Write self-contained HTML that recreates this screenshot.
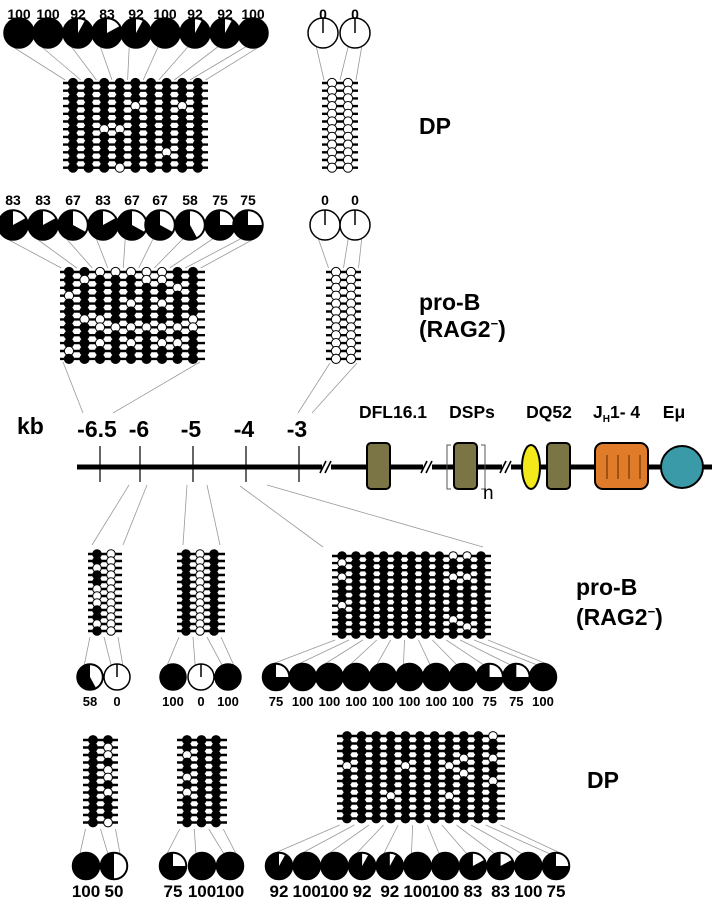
<!DOCTYPE html>
<html><head><meta charset="utf-8"><style>
html,body{margin:0;padding:0;background:#fff;}
svg{display:block;}
text{font-family:"Liberation Sans",Arial,sans-serif;font-weight:bold;fill:#000;}
</style></head><body>
<svg id="s" width="712" height="903" viewBox="0 0 712 903" xmlns="http://www.w3.org/2000/svg">
<g id="g"></g>
<line x1="77" y1="467" x2="712" y2="467" stroke="#000" stroke-width="5"/>
<g stroke="#000" stroke-width="1.2">
<line x1="100" y1="446" x2="100" y2="482"/><line x1="140" y1="446" x2="140" y2="482"/>
<line x1="193" y1="446" x2="193" y2="482"/><line x1="246" y1="446" x2="246" y2="482"/>
<line x1="299" y1="446" x2="299" y2="482"/>
</g>
<g stroke="#fff" stroke-width="6"><line x1="322" y1="467" x2="331" y2="467"/><line x1="423" y1="467" x2="432" y2="467"/><line x1="502" y1="467" x2="511" y2="467"/></g>
<g stroke="#000" stroke-width="1.6">
<line x1="320" y1="473" x2="326" y2="461"/><line x1="325" y1="473" x2="331" y2="461"/>
<line x1="421" y1="473" x2="427" y2="461"/><line x1="426" y1="473" x2="432" y2="461"/>
<line x1="500" y1="473" x2="506" y2="461"/><line x1="505" y1="473" x2="511" y2="461"/>
</g>
<rect x="367" y="443" width="23" height="46" rx="4" fill="#7b7545" stroke="#000" stroke-width="2"/>
<path d="M451 445 H447 V489 H451 M481 445 H485 V489 H481" fill="none" stroke="#555" stroke-width="1"/>
<rect x="454" y="443" width="23" height="46" rx="4" fill="#7b7545" stroke="#000" stroke-width="2"/>
<ellipse cx="531" cy="467" rx="9" ry="22" fill="#f2e81a" stroke="#000" stroke-width="2"/>
<rect x="547" y="443" width="23" height="46" rx="4" fill="#7b7545" stroke="#000" stroke-width="2"/>
<rect x="595" y="443" width="53" height="46" rx="8" fill="#e07b2a" stroke="#000" stroke-width="2"/>
<g stroke="#5a2a00" stroke-width="1"><line x1="607" y1="455" x2="607" y2="479"/><line x1="618" y1="455" x2="618" y2="479"/><line x1="629" y1="455" x2="629" y2="479"/><line x1="640" y1="455" x2="640" y2="479"/></g>
<circle cx="682" cy="467" r="21" fill="#3a9aa8" stroke="#000" stroke-width="2"/>
<text x="483" y="499" font-size="19" style="font-weight:normal">n</text>
<text x="393" y="418" font-size="17.5" text-anchor="middle">DFL16.1</text>
<text x="472" y="418" font-size="17.5" text-anchor="middle">DSPs</text>
<text x="549" y="418" font-size="17.5" text-anchor="middle">DQ52</text>
<text x="593" y="418" font-size="17.5">J<tspan font-size="10" dy="4">H</tspan><tspan dy="-4">1- 4</tspan></text>
<text x="674" y="418" font-size="17.5" text-anchor="middle">Eμ</text>
<text x="17" y="434" font-size="23">kb</text>
<g font-size="23" text-anchor="middle">
<text x="97" y="437">-6.5</text><text x="139" y="437">-6</text><text x="191" y="437">-5</text><text x="244" y="437">-4</text><text x="297" y="437">-3</text>
</g>
<g font-size="23">
<text x="419" y="134">DP</text>
<text x="419" y="310">pro-B</text><text x="419" y="337">(RAG2<tspan font-size="13" dy="-9">−</tspan><tspan dy="9">)</tspan></text>
<text x="576" y="595">pro-B</text><text x="576" y="625">(RAG2<tspan font-size="13" dy="-9">−</tspan><tspan dy="9">)</tspan></text>
<text x="587" y="788">DP</text>
</g>
<g font-size="14" text-anchor="middle">
<text x="19" y="19">100</text><text x="48" y="19">100</text><text x="78" y="19">92</text><text x="107" y="19">83</text><text x="136" y="19">92</text><text x="165" y="19">100</text><text x="195" y="19">92</text><text x="225" y="19">92</text><text x="253" y="19">100</text>
<text x="323" y="19">0</text><text x="355" y="19">0</text>
<text x="13" y="205">83</text><text x="43" y="205">83</text><text x="73" y="205">67</text><text x="103" y="205">83</text><text x="132" y="205">67</text><text x="160" y="205">67</text><text x="190" y="205">58</text><text x="220" y="205">75</text><text x="248" y="205">75</text>
<text x="325" y="205">0</text><text x="355" y="205">0</text>
</g>
<g font-size="13" text-anchor="middle">
<text x="90" y="706">58</text><text x="117" y="706">0</text>
<text x="173" y="706">100</text><text x="201" y="706">0</text><text x="228" y="706">100</text>
<text x="276" y="706">75</text><text x="302.7" y="706">100</text><text x="329.4" y="706">100</text><text x="356.1" y="706">100</text><text x="382.8" y="706">100</text><text x="409.5" y="706">100</text><text x="436.2" y="706">100</text><text x="462.9" y="706">100</text><text x="489.6" y="706">75</text><text x="516.3" y="706">75</text><text x="543" y="706">100</text>
</g>
<g font-size="17" text-anchor="middle">
<text x="86" y="897">100</text><text x="114" y="897">50</text>
<text x="173" y="897">75</text><text x="202" y="897">100</text><text x="230" y="897">100</text>
<text x="279" y="897">92</text><text x="306.7" y="897">100</text><text x="334.4" y="897">100</text><text x="362.1" y="897">92</text><text x="389.8" y="897">92</text><text x="417.5" y="897">100</text><text x="445.2" y="897">100</text><text x="472.9" y="897">83</text><text x="500.6" y="897">83</text><text x="528.3" y="897">100</text><text x="556" y="897">75</text>
</g>
</svg>
<script>
var G=document.getElementById('g'),NS='http://www.w3.org/2000/svg';
function el(t,a){var e=document.createElementNS(NS,t);for(var k in a)e.setAttribute(k,a[k]);G.appendChild(e);return e;}
function ln(x1,y1,x2,y2,c,w){el('line',{x1:x1,y1:y1,x2:x2,y2:y2,stroke:c||'#999',"stroke-width":w||0.8});}
function pie(x,y,r,p){
 if(p>=100){el('circle',{cx:x,cy:y,r:r,fill:'#000',stroke:'#000','stroke-width':1.5});return;}
 el('circle',{cx:x,cy:y,r:r,fill:p>0?'#000':'#fff',stroke:'#000','stroke-width':1.5});
 if(p<=0){ln(x,y,x,y-r,'#000',1.5);return;}
 var a=(100-p)/100*2*Math.PI,ir=r-1.2;
 var ex=x+ir*Math.sin(a),ey=y-ir*Math.cos(a);
 el('path',{d:'M'+x+' '+y+' L'+x+' '+(y-ir)+' A'+ir+' '+ir+' 0 '+(a>Math.PI?1:0)+' 1 '+ex+' '+ey+' Z',fill:'#fff'});
}
function grid(x0,sp,nc,y0,rs,nr,r,lx1,lx2,whites,allWhite){
 for(var i=0;i<nr;i++){ln(lx1,y0+i*rs,lx2,y0+i*rs,'#000',2.4);}
 for(var c=0;c<nc;c++){var x=x0+c*sp;ln(x,y0,x,y0+(nr-1)*rs,'#000',2);
  for(var i=0;i<nr;i++){var w=allWhite&&allWhite.indexOf(c)>=0||(whites[c]&&whites[c].indexOf(i)>=0);
   el('circle',{cx:x,cy:y0+i*rs,r:r,fill:w?'#fff':'#000',stroke:'#000','stroke-width':1});}}
}
function fan(pxs,py,r,cx0,sp,nc,gy,up){
 var n=pxs.length;
 for(var k=0;k<=n;k++){
  var sx=k<n?pxs[k]-0.45*r:pxs[n-1]+0.45*r;
  var sy=up?py+0.9*r:py-0.9*r;
  var gx=cx0-sp/2+k*(sp*nc)/n;
  ln(sx,sy,gx,gy);
 }
}
function pies(xs,y,r,ps){for(var i=0;i<xs.length;i++)pie(xs[i],y,r,ps[i]);}
function seq(a,s,n){var o=[];for(var i=0;i<n;i++)o.push(a+s*i);return o;}
var x1=[19,48,78,107,136,165,195,225,253];
fan(x1,33,15,73,15.6,9,80,true);
pies(x1,33,15,[100,100,92,83,92,100,92,92,100]);
grid(73,15.6,9,83,7.7,12,4.6,63,208,{2:[6],3:[6,11],4:[3],6:[9],7:[3]});
fan([323,355],33,15,332,16,2,80,true);
pies([323,355],33,15,[0,0]);
grid(332,16,2,83,7.7,12,4.6,322,358,{},[0,1]);
var x2=[13,43,73,103,132,160,190,220,248];
fan(x2,225,15,69,15.5,9,268,true);
pies(x2,225,15,[83,83,67,83,67,67,58,75,75]);
grid(69,15.5,9,272,7.9,12,4.6,60,205,{0:[3,10],1:[1,6],2:[0,6,7,9],3:[0,7],4:[0,4,7,9],5:[0,1,7],6:[0,1,4,7,9],7:[2,7,9],8:[6,7]});
fan([325,355],225,15,336,15,2,268,true);
pies([325,355],225,15,[0,0]);
grid(336,15,2,272,7.9,12,4.6,326,361,{},[0,1]);
ln(63,362,83,413);ln(200,362,113,413);ln(330,363,298,413);ln(357,363,312,413);
ln(129,485,92,545);ln(147,485,123,545);ln(187,485,183,545);ln(207,485,220,545);
ln(240,486,323,547);ln(267,485,483,547);
grid(97,14,2,554,7,12,4.3,88,122,{0:[2,5,6,7,10]},[1]);
fan([90,117],677,13,97,14,2,637,false);
pies([90,117],677,13,[58,0]);
grid(186,14,3,554,7,12,4.3,177,225,{},[1]);
fan([173,201,228],677,13,186,14,3,637,false);
pies([173,201,228],677,13,[100,0,100]);
grid(342,13.9,11,556,7.1,12,4.3,332,491,{0:[1,3,7],8:[0,3,9],9:[0,3,10]});
var x3=seq(276,26.7,11);
fan(x3,677,13.5,342,13.9,11,640,false);
pies(x3,677,13.5,[75,100,100,100,100,100,100,100,75,75,100]);
grid(93,15,2,740,7.5,12,4.4,83,118,{1:[1,2,4,5,7,11]});
fan([86,114],866,13.5,93,15,2,829,false);
pies([86,114],866,13.5,[100,50]);
grid(187,14.5,3,740,7.5,12,4.4,177,227,{0:[2,5,7]});
fan([173,202,230],866,13.5,187,14.5,3,829,false);
pies([173,202,230],866,13.5,[75,100,100]);
grid(347,14.6,11,736,7.5,12,4.4,337,505,{0:[4],3:[8],4:[4],7:[4,8],8:[3,5],10:[0,3,6]});
var x4=seq(279,27.7,11);
fan(x4,866,13.5,347,14.6,11,825,false);
pies(x4,866,13.5,[92,100,100,92,92,100,100,83,83,100,75]);
</script>
</body></html>
